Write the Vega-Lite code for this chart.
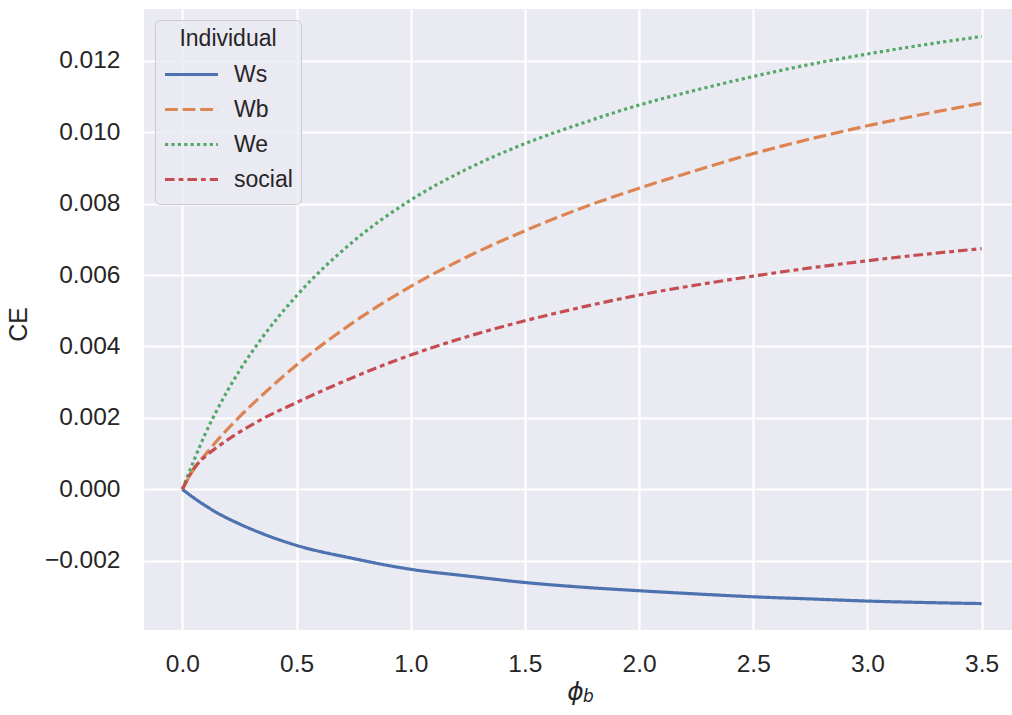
{
  "$schema": "https://vega.github.io/schema/vega-lite/v6.json",
  "width": 868,
  "height": 621,
  "autosize": {"type": "none"},
  "padding": {"left": 144, "top": 9, "right": 0, "bottom": 85},
  "background": "white",
  "config": {
    "view": {"fill": "#eaeaf2", "stroke": null},
    "font": "Liberation Sans"
  },
  "title": {"text": "b", "orient": "bottom", "anchor": "start", "frame": "group", "dx": 439, "offset": -16, "font": "DejaVu Sans", "fontStyle": "italic", "fontWeight": "normal", "fontSize": 17, "color": "#262626"},
  "data": {"values": [
    {"phi":0,"CE":0,"series":"Ws"},{"phi":0.05,"CE":-0.00024,"series":"Ws"},{"phi":0.1,"CE":-0.000455,"series":"Ws"},{"phi":0.15,"CE":-0.00065,"series":"Ws"},{"phi":0.25,"CE":-0.00097,"series":"Ws"},{"phi":0.35,"CE":-0.00124,"series":"Ws"},{"phi":0.5,"CE":-0.00157,"series":"Ws"},{"phi":0.75,"CE":-0.00194,"series":"Ws"},{"phi":1.0,"CE":-0.00224,"series":"Ws"},{"phi":1.25,"CE":-0.00243,"series":"Ws"},{"phi":1.5,"CE":-0.00261,"series":"Ws"},{"phi":1.75,"CE":-0.00274,"series":"Ws"},{"phi":2.0,"CE":-0.00284,"series":"Ws"},{"phi":2.25,"CE":-0.00293,"series":"Ws"},{"phi":2.5,"CE":-0.00301,"series":"Ws"},{"phi":2.75,"CE":-0.00307,"series":"Ws"},{"phi":3.0,"CE":-0.00313,"series":"Ws"},{"phi":3.25,"CE":-0.00317,"series":"Ws"},{"phi":3.5,"CE":-0.0032,"series":"Ws"},
    {"phi":0,"CE":0,"series":"Wb"},{"phi":0.05,"CE":0.00056,"series":"Wb"},{"phi":0.1,"CE":0.00097,"series":"Wb"},{"phi":0.15,"CE":0.00135,"series":"Wb"},{"phi":0.25,"CE":0.00203,"series":"Wb"},{"phi":0.35,"CE":0.00264,"series":"Wb"},{"phi":0.5,"CE":0.00348,"series":"Wb"},{"phi":0.75,"CE":0.00468,"series":"Wb"},{"phi":1.0,"CE":0.00568,"series":"Wb"},{"phi":1.25,"CE":0.00652,"series":"Wb"},{"phi":1.5,"CE":0.00724,"series":"Wb"},{"phi":1.75,"CE":0.00788,"series":"Wb"},{"phi":2.0,"CE":0.00843,"series":"Wb"},{"phi":2.25,"CE":0.00893,"series":"Wb"},{"phi":2.5,"CE":0.0094,"series":"Wb"},{"phi":2.75,"CE":0.00981,"series":"Wb"},{"phi":3.0,"CE":0.01018,"series":"Wb"},{"phi":3.25,"CE":0.01051,"series":"Wb"},{"phi":3.5,"CE":0.01081,"series":"Wb"},
    {"phi":0,"CE":0,"series":"We"},{"phi":0.05,"CE":0.0008,"series":"We"},{"phi":0.1,"CE":0.00155,"series":"We"},{"phi":0.15,"CE":0.0022,"series":"We"},{"phi":0.25,"CE":0.00332,"series":"We"},{"phi":0.35,"CE":0.00425,"series":"We"},{"phi":0.5,"CE":0.00542,"series":"We"},{"phi":0.75,"CE":0.00695,"series":"We"},{"phi":1.0,"CE":0.0081,"series":"We"},{"phi":1.25,"CE":0.00898,"series":"We"},{"phi":1.5,"CE":0.00968,"series":"We"},{"phi":1.75,"CE":0.01025,"series":"We"},{"phi":2.0,"CE":0.01076,"series":"We"},{"phi":2.25,"CE":0.01118,"series":"We"},{"phi":2.5,"CE":0.01156,"series":"We"},{"phi":2.75,"CE":0.0119,"series":"We"},{"phi":3.0,"CE":0.01219,"series":"We"},{"phi":3.25,"CE":0.01245,"series":"We"},{"phi":3.5,"CE":0.01268,"series":"We"},
    {"phi":0,"CE":0,"series":"social"},{"phi":0.05,"CE":0.00058,"series":"social"},{"phi":0.1,"CE":0.00092,"series":"social"},{"phi":0.15,"CE":0.00117,"series":"social"},{"phi":0.25,"CE":0.0016,"series":"social"},{"phi":0.35,"CE":0.00197,"series":"social"},{"phi":0.5,"CE":0.00243,"series":"social"},{"phi":0.75,"CE":0.00314,"series":"social"},{"phi":1.0,"CE":0.00376,"series":"social"},{"phi":1.25,"CE":0.00428,"series":"social"},{"phi":1.5,"CE":0.00472,"series":"social"},{"phi":1.75,"CE":0.0051,"series":"social"},{"phi":2.0,"CE":0.00544,"series":"social"},{"phi":2.25,"CE":0.00572,"series":"social"},{"phi":2.5,"CE":0.00597,"series":"social"},{"phi":2.75,"CE":0.0062,"series":"social"},{"phi":3.0,"CE":0.0064,"series":"social"},{"phi":3.25,"CE":0.00658,"series":"social"},{"phi":3.5,"CE":0.00674,"series":"social"}
  ]},
  "mark": {"type": "line", "strokeWidth": 3.2, "interpolate": "monotone", "clip": true},
  "encoding": {
    "x": {
      "field": "phi", "type": "quantitative",
      "scale": {"domain": [-0.168, 3.633], "nice": false, "zero": false},
      "axis": {
        "values": [0, 0.5, 1, 1.5, 2, 2.5, 3, 3.5], "format": ".1f",
        "domain": false, "ticks": false, "grid": true, "gridColor": "white", "gridWidth": 2.2,
        "labelFontSize": 24.5, "labelColor": "#262626", "labelPadding": 22,
        "title": "ϕ", "titleFont": "DejaVu Sans", "titleFontStyle": "italic", "titleFontWeight": "normal",
        "titleFontSize": 25, "titleColor": "#262626", "titleX": 431, "titlePadding": 4
      }
    },
    "y": {
      "field": "CE", "type": "quantitative",
      "scale": {"domain": [-0.00394, 0.01345], "nice": false, "zero": false},
      "axis": {
        "values": [-0.002, 0, 0.002, 0.004, 0.006, 0.008, 0.01, 0.012], "format": ".3f",
        "domain": false, "ticks": false, "grid": true, "gridColor": "white", "gridWidth": 2.2,
        "labelFontSize": 24.5, "labelColor": "#262626", "labelPadding": 24,
        "title": "CE", "titleFontSize": 25, "titleFontWeight": "normal", "titleColor": "#262626", "titlePadding": 13, "titleY": 315
      }
    },
    "color": {
      "field": "series", "type": "nominal", "title": "Individual",
      "scale": {"domain": ["Ws", "Wb", "We", "social"], "range": ["#4c72b0", "#dd8452", "#55a868", "#c44e52"]},
      "legend": {
        "orient": "top-left", "offset": 11, "symbolType": "stroke", "symbolSize": 2809, "symbolStrokeWidth": 3.2,
        "titleFontSize": 23, "titleFontWeight": "normal", "titleColor": "#262626", "titleAnchor": "middle", "titleAlign": "center", "titlePadding": 7,
        "labelFontSize": 23, "labelColor": "#262626", "labelOffset": 14, "padding": 8, "rowPadding": 2, "clipHeight": 33,
        "fillColor": "rgba(234,234,242,0.8)", "strokeColor": "#cccccc", "cornerRadius": 5
      }
    },
    "strokeDash": {
      "field": "series", "type": "nominal", "title": "Individual",
      "scale": {"domain": ["Ws", "Wb", "We", "social"], "range": [[1, 0], [12.8, 4.8], [3.2, 3.2], [9.6, 4, 4.8, 4]]},
      "legend": {
        "orient": "top-left", "offset": 11, "symbolType": "stroke", "symbolSize": 2809, "symbolStrokeWidth": 3.2,
        "titleFontSize": 23, "titleFontWeight": "normal", "titleColor": "#262626", "titleAnchor": "middle", "titleAlign": "center", "titlePadding": 7,
        "labelFontSize": 23, "labelColor": "#262626", "labelOffset": 14, "padding": 8, "rowPadding": 2, "clipHeight": 33,
        "fillColor": "rgba(234,234,242,0.8)", "strokeColor": "#cccccc", "cornerRadius": 5
      }
    }
  }
}
